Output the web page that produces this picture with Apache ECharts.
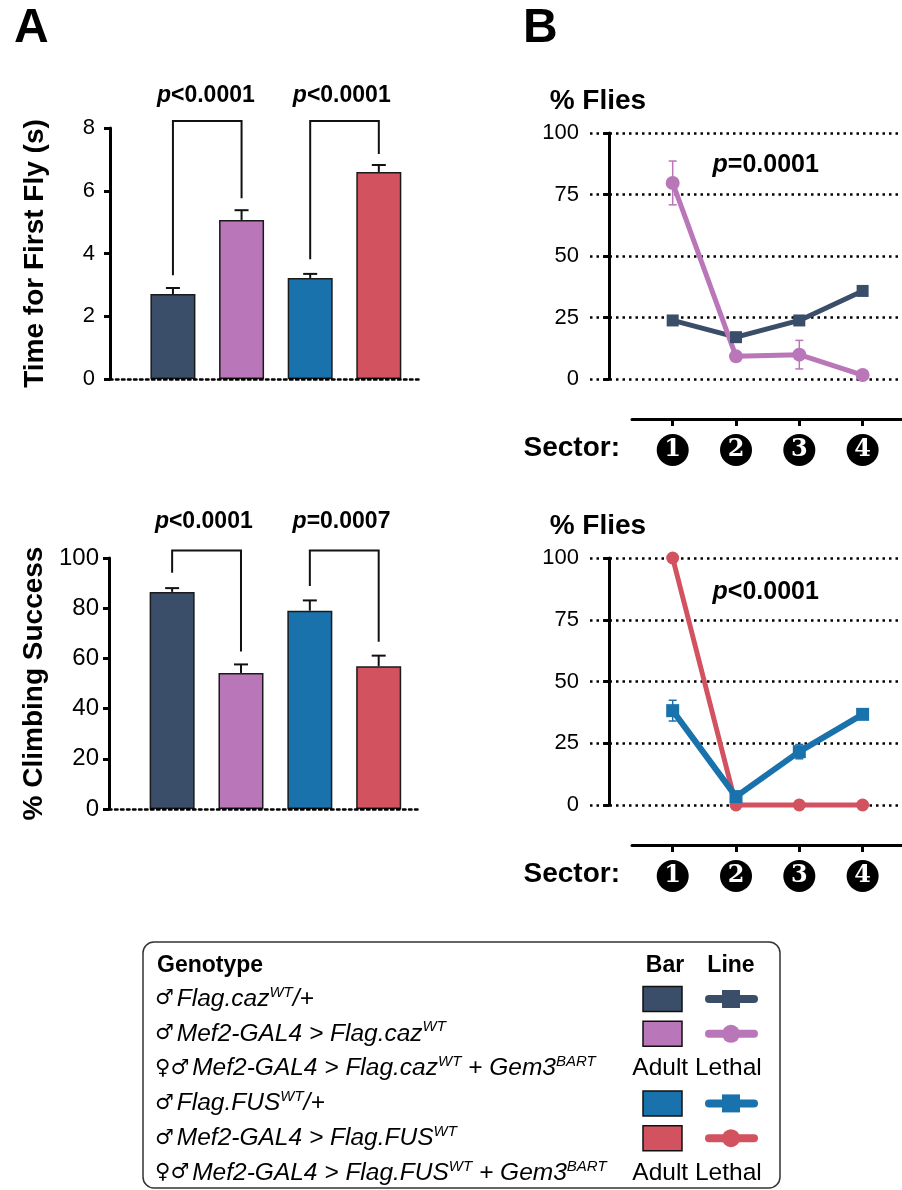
<!DOCTYPE html>
<html>
<head>
<meta charset="utf-8">
<script src="https://cdn.jsdelivr.net/npm/echarts@6/dist/echarts.min.js"></script>
<style>
  html, body { margin: 0; padding: 0; background: #fff; }
  #chart { width: 902px; height: 1190px; }
</style>
</head>
<body>
<div id="chart"></div>
<script>
// ---- data ----
const genotypeColors = ['#3b4e69', '#b976b8', '#1a72ad', '#d25260'];

// Panel A: time for first fly (s), mean and SEM
const flyTime = [2.71, 5.07, 3.22, 6.60];
const flyTimeSem = [0.19, 0.31, 0.13, 0.22];
const flyTimeTicks = [0, 2, 4, 6, 8];
const flyTimePValues = ['<0.0001', '<0.0001'];

// Panel A: % climbing success, mean and SEM
const climbing = [86.5, 54.2, 79.0, 56.9];
const climbingSem = [1.5, 3.4, 4.1, 4.2];
const climbingTicks = [0, 20, 40, 60, 80, 100];
const climbingPValues = ['<0.0001', '=0.0007'];

// Panel B: % flies per sector
const sectors = ['1', '2', '3', '4'];
const cazControl = [23.8, 17.0, 23.8, 35.8];
const cazControlSem = [1.0, 1.0, 1.0, 1.0];
const cazMef2 = [79.7, 9.2, 9.9, 1.6];
const cazMef2Sem = [8.9, 0.6, 5.8, 0.5];
const fusControl = [38.2, 3.4, 21.6, 36.7];
const fusControlSem = [4.2, 1.0, 2.9, 0.8];
const fusMef2 = [100, 0, 0, 0];
const fusMef2Sem = [0, 0, 0, 0];
const flyPercentTicks = [0, 25, 50, 75, 100];
const sectorPValues = ['=0.0001', '<0.0001'];

// Legend rows: [text, style] tokens; bar/line key index or null (adult lethal)
const genotypeLabels = [
  [['\u2642', 'sym'], ['Flag.caz', 'it'], ['WT', 'sup'], ['/+', 'it']],
  [['\u2642', 'sym'], ['Mef2-GAL4 > Flag.caz', 'it'], ['WT', 'sup']],
  [['\u2640\u2642', 'sym'], ['Mef2-GAL4 > Flag.caz', 'it'], ['WT', 'sup'], [' + Gem3', 'it'], ['BART', 'sup']],
  [['\u2642', 'sym'], ['Flag.FUS', 'it'], ['WT', 'sup'], ['/+', 'it']],
  [['\u2642', 'sym'], ['Mef2-GAL4 > Flag.FUS', 'it'], ['WT', 'sup']],
  [['\u2640\u2642', 'sym'], ['Mef2-GAL4 > Flag.FUS', 'it'], ['WT', 'sup'], [' + Gem3', 'it'], ['BART', 'sup']]
];
const genotypeKey = [0, 1, null, 2, 3, null];
const lineMarkers = ['rect', 'circle', 'rect', 'circle'];
const lethalText = 'Adult Lethal';

// ---- styling helpers ----
const FONT = '"Liberation Sans", Arial, Helvetica, sans-serif';
const INK = '#000';

function pLabelRich(size) {
  return {
    i: { fontFamily: FONT, fontSize: size, fontWeight: 'bold', fontStyle: 'italic', color: INK },
    b: { fontFamily: FONT, fontSize: size, fontWeight: 'bold', color: INK }
  };
}

function barYAxis(grid, ticks, name, labelSize, labelMargin) {
  const step = ticks[1] - ticks[0];
  return {
    gridIndex: grid, type: 'value', min: ticks[0], max: ticks[ticks.length - 1], interval: step,
    axisLine: { show: true, lineStyle: { color: INK, width: 3 } },
    axisTick: { show: true, length: 6, lineStyle: { color: INK, width: 3 } },
    axisLabel: { fontFamily: FONT, fontSize: labelSize, color: INK, margin: labelMargin },
    splitLine: { show: false },
    name: name, nameLocation: 'middle', nameGap: 61,
    nameTextStyle: { fontFamily: FONT, fontSize: 28, fontWeight: 'bold', color: INK }
  };
}

function barXAxis(grid) {
  return {
    gridIndex: grid, type: 'value', min: 0.083, max: 4.6, z: 5,
    axisLine: { show: true, onZero: true, lineStyle: { color: INK, width: 2.5, type: [2.5, 3.5] } },
    axisTick: { show: false }, axisLabel: { show: false }, splitLine: { show: false }
  };
}

function lineYAxis(grid, ticks) {
  const step = ticks[1] - ticks[0];
  return {
    gridIndex: grid, type: 'value', min: ticks[0], max: ticks[ticks.length - 1], interval: step,
    axisLine: { show: true, lineStyle: { color: INK, width: 3 } },
    axisTick: { show: true, length: 6, lineStyle: { color: INK, width: 3 } },
    axisLabel: { fontFamily: FONT, fontSize: 22, color: INK, margin: 11 },
    splitLine: { show: true, lineStyle: { color: INK, width: 2.5, type: [2.5, 4] } },
    name: '% Flies', nameLocation: 'end', nameGap: 18,
    nameTextStyle: { fontFamily: FONT, fontSize: 28, fontWeight: 'bold', color: INK, align: 'center', padding: [0, 23, 0, 0] }
  };
}

function lineXAxis(grid) {
  return {
    gridIndex: grid, type: 'value', min: -0.306, max: 4.622, show: false
  };
}

function sectorXAxis(grid) {
  const pos = sectors.map((s, i) => i + 1);
  return {
    gridIndex: grid, type: 'value', min: 0.357, max: 4.622, position: 'bottom',
    axisLine: { show: true, onZero: false, lineStyle: { color: INK, width: 3 } },
    axisTick: { show: true, customValues: pos, length: 7, lineStyle: { color: INK, width: 3 } },
    axisLabel: {
      show: true, customValues: pos, margin: 15,
      formatter: v => '{c|' + sectors[Math.round(v) - 1] + '}',
      rich: {
        c: {
          backgroundColor: '#000', color: '#fff', width: 32, height: 32, lineHeight: 32,
          borderRadius: 16, align: 'center', fontFamily: '"DejaVu Serif", "Liberation Serif", serif',
          fontWeight: 'bold', fontSize: 24
        }
      }
    },
    splitLine: { show: false },
    name: 'Sector:', nameLocation: 'start', nameGap: 12,
    nameTextStyle: { fontFamily: FONT, fontSize: 28, fontWeight: 'bold', color: INK, verticalAlign: 'top', padding: [15, 0, 0, 0] }
  };
}

function hiddenYAxis(grid) {
  return { gridIndex: grid, type: 'value', min: 0, max: 1, show: false };
}

function barSeries(axis, values) {
  return {
    type: 'bar', xAxisIndex: axis, yAxisIndex: axis, barWidth: 45, z: 2,
    data: values.map((v, i) => ({ value: [i + 1, v], itemStyle: { color: genotypeColors[i] } })),
    itemStyle: { borderColor: '#1a1a1a', borderWidth: 1.5 }
  };
}

function errorBars(axis, values, sems, color, opts) {
  return {
    type: 'custom', xAxisIndex: axis, yAxisIndex: axis, clip: false, z: opts.z,
    data: values.map((v, i) => [i + 1, v, sems[i]]),
    renderItem(params, api) {
      const x = api.value(0), y = api.value(1), e = api.value(2);
      const hi = api.coord([x, y + e]);
      const lo = api.coord([x, opts.upOnly ? y : y - e]);
      const hw = opts.cap / 2;
      const style = { stroke: color, lineWidth: opts.width, fill: null };
      const children = [
        { type: 'line', shape: { x1: hi[0], y1: hi[1], x2: lo[0], y2: lo[1] }, style },
        { type: 'line', shape: { x1: hi[0] - hw, y1: hi[1], x2: hi[0] + hw, y2: hi[1] }, style }
      ];
      if (!opts.upOnly) {
        children.push({ type: 'line', shape: { x1: lo[0] - hw, y1: lo[1], x2: lo[0] + hw, y2: lo[1] }, style });
      }
      return { type: 'group', children };
    }
  };
}

// bracket joining two bars: left leg foot, shared top, right leg foot
function bracket(axis, xa, xb, footA, top, footB) {
  return {
    type: 'line', xAxisIndex: axis, yAxisIndex: axis, clip: false, symbol: 'none', z: 3,
    silent: true,
    lineStyle: { color: '#111', width: 2, join: 'miter', cap: 'butt' },
    data: [[xa, footA], [xa, top], [xb, top], [xb, footB]]
  };
}

function pLabel(axis, x, y, text, size) {
  return {
    type: 'scatter', xAxisIndex: axis, yAxisIndex: axis, clip: false, symbolSize: 1, z: 4,
    itemStyle: { color: 'rgba(255,255,255,0)' }, silent: true,
    label: {
      show: true, position: 'inside', color: INK, textBorderWidth: 0, opacity: 1,
      formatter: '{i|p}{b|' + text + '}', rich: pLabelRich(size)
    },
    data: [[x, y]]
  };
}

function flyLine(axis, values, colorIdx, width, size) {
  const c = genotypeColors[colorIdx];
  return {
    type: 'line', xAxisIndex: axis, yAxisIndex: axis, clip: false, z: 3,
    data: values.map((v, i) => [i + 1, v]),
    symbol: lineMarkers[colorIdx], symbolSize: size, showSymbol: true,
    lineStyle: { color: c, width: width }, itemStyle: { color: c, borderWidth: 0 }
  };
}

// ---- legend drawn as graphic elements ----
function legendGraphics() {
  const els = [];
  const rowY = i => 999 + 34.8 * i;
  els.push({ type: 'rect', shape: { x: 143, y: 942, width: 637, height: 246, r: 11 },
    style: { fill: 'none', stroke: '#333', lineWidth: 1.5 } });
  const hdr = { fontFamily: FONT, fontSize: 23, fontWeight: 'bold', fill: INK, verticalAlign: 'middle' };
  els.push({ type: 'text', x: 157, y: 966, style: Object.assign({ text: 'Genotype', align: 'left' }, hdr) });
  els.push({ type: 'text', x: 665, y: 966, style: Object.assign({ text: 'Bar', align: 'center' }, hdr) });
  els.push({ type: 'text', x: 731, y: 966, style: Object.assign({ text: 'Line', align: 'center' }, hdr) });
  const rich = {
    sym: { fontFamily: '"DejaVu Sans", ' + FONT, fontSize: 21, fill: INK, lineHeight: 28, padding: [0, 3, 0, 0] },
    it: { fontFamily: FONT, fontSize: 24.5, fontStyle: 'italic', fill: INK, lineHeight: 28 },
    sup: { fontFamily: FONT, fontSize: 15, fontStyle: 'italic', fill: INK, verticalAlign: 'top', lineHeight: 15 }
  };
  genotypeLabels.forEach((tokens, i) => {
    const text = tokens.map(t => '{' + t[1] + '|' + t[0].replace(/\s/g, '\u00a0') + '}').join('');
    els.push({ type: 'text', x: 155, y: rowY(i),
      style: { text, rich, align: 'left', verticalAlign: 'middle' } });
    const k = genotypeKey[i];
    if (k === null) {
      els.push({ type: 'text', x: 697, y: rowY(i),
        style: { text: lethalText, fontFamily: FONT, fontSize: 24.5, fill: INK, align: 'center', verticalAlign: 'middle' } });
    } else {
      const c = genotypeColors[k];
      els.push({ type: 'rect', shape: { x: 643, y: rowY(i) - 12.5, width: 39, height: 25 },
        style: { fill: c, stroke: '#111', lineWidth: 1.5 } });
      els.push({ type: 'line', shape: { x1: 709, y1: rowY(i), x2: 754, y2: rowY(i) },
        style: { stroke: c, lineWidth: 8, lineCap: 'round' } });
      if (lineMarkers[k] === 'rect') {
        els.push({ type: 'rect', shape: { x: 722, y: rowY(i) - 9, width: 18, height: 18 }, style: { fill: c } });
      } else {
        els.push({ type: 'circle', shape: { cx: 731, cy: rowY(i), r: 9 }, style: { fill: c } });
      }
    }
  });
  return els;
}

const chart = echarts.init(document.getElementById('chart'), null, { renderer: 'canvas' });

chart.setOption({
  animation: false,
  backgroundColor: '#fff',
  textStyle: { fontFamily: FONT },
  grid: [
    { left: 110, top: 128, width: 310, height: 251 },
    { left: 109, top: 558, width: 311, height: 251 },
    { left: 590, top: 133, right: 0, height: 246 },
    { left: 590, top: 558, right: 0, height: 247 },
    { left: 632, top: 418, right: 0, height: 1 },
    { left: 632, top: 844, right: 0, height: 1 }
  ],
  xAxis: [barXAxis(0), barXAxis(1), lineXAxis(2), lineXAxis(3), sectorXAxis(4), sectorXAxis(5)],
  yAxis: [
    barYAxis(0, flyTimeTicks, 'Time for First Fly (s)', 22, 15),
    barYAxis(1, climbingTicks, '% Climbing Success', 24, 10),
    lineYAxis(2, flyPercentTicks),
    lineYAxis(3, flyPercentTicks),
    hiddenYAxis(4),
    hiddenYAxis(5)
  ],
  series: [
    barSeries(0, flyTime),
    errorBars(0, flyTime, flyTimeSem, '#111', { upOnly: true, cap: 14, width: 2, z: 3 }),
    bracket(0, 1, 2, 3.31, 8.22, 5.76),
    bracket(0, 3, 4, 3.82, 8.22, 7.17),
    pLabel(0, 1.48, 9.04, flyTimePValues[0], 23),
    pLabel(0, 3.46, 9.04, flyTimePValues[1], 23),

    barSeries(1, climbing),
    errorBars(1, climbing, climbingSem, '#111', { upOnly: true, cap: 14, width: 2, z: 3 }),
    bracket(1, 1, 2, 94.1, 103, 62.7),
    bracket(1, 3, 4, 88.8, 103, 66.6),
    pLabel(1, 1.46, 114.4, climbingPValues[0], 23),
    pLabel(1, 3.46, 114.4, climbingPValues[1], 23),

    errorBars(2, cazControl, cazControlSem, genotypeColors[0], { cap: 8, width: 1.5, z: 2 }),
    errorBars(2, cazMef2, cazMef2Sem, genotypeColors[1], { cap: 8, width: 1.5, z: 2 }),
    flyLine(2, cazControl, 0, 5, 12),
    flyLine(2, cazMef2, 1, 5, 14),
    pLabel(2, 2.47, 86.9, sectorPValues[0], 25),

    errorBars(3, fusControl, fusControlSem, genotypeColors[2], { cap: 8, width: 1.5, z: 2 }),
    errorBars(3, fusMef2, fusMef2Sem, genotypeColors[3], { cap: 8, width: 1.5, z: 2 }),
    flyLine(3, fusMef2, 3, 5, 13),
    flyLine(3, fusControl, 2, 6, 13),
    pLabel(3, 2.47, 86.2, sectorPValues[1], 25)
  ],
  graphic: [
    { type: 'text', left: 14, top: 5, style: { text: 'A', fontFamily: FONT, fontSize: 48, fontWeight: 'bold', fill: INK } },
    { type: 'text', left: 523, top: 5, style: { text: 'B', fontFamily: FONT, fontSize: 48, fontWeight: 'bold', fill: INK } },
    { type: 'group', children: legendGraphics() }
  ]
});
</script>
</body>
</html>
